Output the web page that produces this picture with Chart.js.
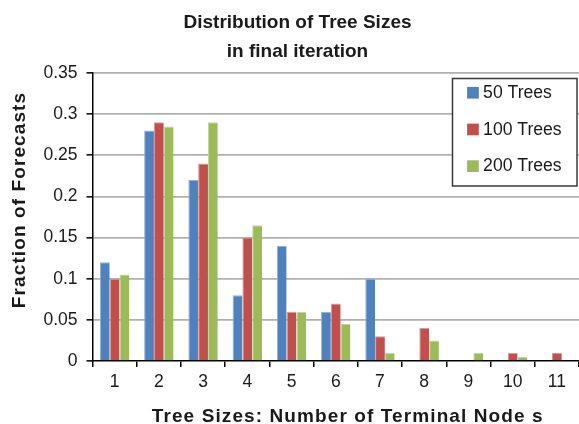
<!DOCTYPE html>
<html>
<head>
<meta charset="utf-8">
<script src="https://cdn.jsdelivr.net/npm/chart.js@4"></script>
<style>
  html, body { margin: 0; padding: 0; background: #fff; }
  canvas { display: block; }
</style>
</head>
<body>
<canvas id="chart" width="579" height="424"></canvas>
<script>
// Tree sizes (number of terminal nodes) on the x axis
const treeSizes = ['1', '2', '3', '4', '5', '6', '7', '8', '9', '10', '11'];

// Fraction of forecasts for each ensemble size
const trees50  = [0.12, 0.28, 0.22, 0.08, 0.14, 0.06, 0.10, 0, 0, 0, 0];
const trees100 = [0.10, 0.29, 0.24, 0.15, 0.06, 0.07, 0.03, 0.04, 0, 0.01, 0.01];
const trees200 = [0.105, 0.285, 0.29, 0.165, 0.06, 0.045, 0.01, 0.025, 0.01, 0.005, 0];

const seriesNames = ['50 Trees', '100 Trees', '200 Trees'];
const seriesColors = ['#4F81BD', '#C0504D', '#9BBB59'];
const seriesEdges = ['#93B0D8', '#DA9694', '#C3D69B'];

const yTickLabels = ['0', '0.05', '0.1', '0.15', '0.2', '0.25', '0.3', '0.35'];

const chartTitle = ['Distribution of Tree Sizes', 'in final iteration'];
const xAxisTitle = 'Tree Sizes: Number of Terminal Node s';
const yAxisTitle = 'Fraction of Forecasts';

const FONT = "'Liberation Sans', Arial, Helvetica, sans-serif";
Chart.defaults.font.family = FONT;
Chart.defaults.color = '#1a1a1a';

// Axis titles, drawn with a little letter spacing
const axisTitlePlugin = {
  id: 'axisTitles',
  afterDraw(chart) {
    const ctx = chart.ctx;
    const area = chart.chartArea;
    ctx.save();
    ctx.fillStyle = '#1a1a1a';
    ctx.font = 'bold 19px ' + FONT;
    if ('letterSpacing' in ctx) ctx.letterSpacing = '1.1px';
    ctx.textAlign = 'center';
    ctx.textBaseline = 'alphabetic';
    ctx.fillText(xAxisTitle, (area.left + area.right) / 2 + 12, 421.5);
    ctx.translate(25, (area.top + area.bottom) / 2 - 17);
    ctx.rotate(-Math.PI / 2);
    ctx.fillText(yAxisTitle, 0, 0);
    ctx.restore();
  }
};

// Boxed legend inside the top right of the plot area
const boxLegendPlugin = {
  id: 'boxLegend',
  afterDraw(chart) {
    const ctx = chart.ctx;
    const area = chart.chartArea;
    const w = 124.5, h = 107.5;
    const x = area.right - 2 - w;
    const y = area.top + 5.5;
    ctx.save();
    ctx.fillStyle = '#fff';
    ctx.fillRect(x, y, w, h);
    ctx.strokeStyle = '#3a3a3a';
    ctx.lineWidth = 1.5;
    ctx.strokeRect(x, y, w, h);
    ctx.font = '17.6px ' + FONT;
    ctx.textAlign = 'left';
    ctx.textBaseline = 'middle';
    chart.data.datasets.forEach((ds, i) => {
      const cy = y + 14.2 + i * 36.7;
      ctx.fillStyle = ds.backgroundColor;
      ctx.fillRect(x + 14.6, cy - 5.8, 11.7, 11.7);
      ctx.fillStyle = '#1a1a1a';
      ctx.fillText(ds.label, x + 30.6, cy + 0.5);
    });
    ctx.restore();
  }
};

const barEdge = { top: 1, left: 1, right: 0, bottom: 0 };

new Chart(document.getElementById('chart'), {
  type: 'bar',
  data: {
    labels: treeSizes,
    datasets: [
      { label: seriesNames[0], data: trees50,  backgroundColor: seriesColors[0], borderColor: seriesEdges[0] },
      { label: seriesNames[1], data: trees100, backgroundColor: seriesColors[1], borderColor: seriesEdges[1] },
      { label: seriesNames[2], data: trees200, backgroundColor: seriesColors[2], borderColor: seriesEdges[2] }
    ]
  },
  options: {
    responsive: false,
    animation: false,
    devicePixelRatio: 1,
    layout: { padding: { left: 16, right: 0, top: 0, bottom: 0 } },
    datasets: {
      bar: { barPercentage: 1.0, categoryPercentage: 0.665, borderWidth: barEdge, borderSkipped: false }
    },
    plugins: {
      legend: { display: false },
      tooltip: { enabled: false },
      title: {
        display: true,
        text: chartTitle,
        color: '#1a1a1a',
        font: { size: 19, weight: 'bold', lineHeight: 1.5 },
        padding: { top: 9, bottom: 7 }
      }
    },
    scales: {
      x: {
        offset: true,
        grid: {
          offset: true,
          drawOnChartArea: false,
          drawTicks: true,
          tickLength: 6,
          tickColor: '#000',
          tickWidth: 1.5,
          color: '#000',
          lineWidth: 1.5
        },
        border: { display: true, color: '#000', width: 1.5 },
        ticks: { font: { size: 17.5 }, color: '#1a1a1a', padding: 5, maxRotation: 0 },
        afterFit(scale) { scale.height = 63; }
      },
      y: {
        min: 0,
        max: 0.35,
        ticks: {
          stepSize: 0.05,
          font: { size: 17.5 },
          color: '#1a1a1a',
          padding: 9,
          callback: (value, index) => yTickLabels[index]
        },
        grid: {
          color: (c) => (c.tick && c.tick.value === 0 ? 'rgba(0,0,0,0)' : '#b0b0b0'),
          lineWidth: 1.7,
          tickColor: '#000',
          tickWidth: 1.5,
          tickLength: 6
        },
        border: { display: true, color: '#000', width: 1.5 },
        afterFit(scale) { scale.width = 76.5; }
      }
    }
  },
  plugins: [axisTitlePlugin, boxLegendPlugin]
});
</script>
</body>
</html>
